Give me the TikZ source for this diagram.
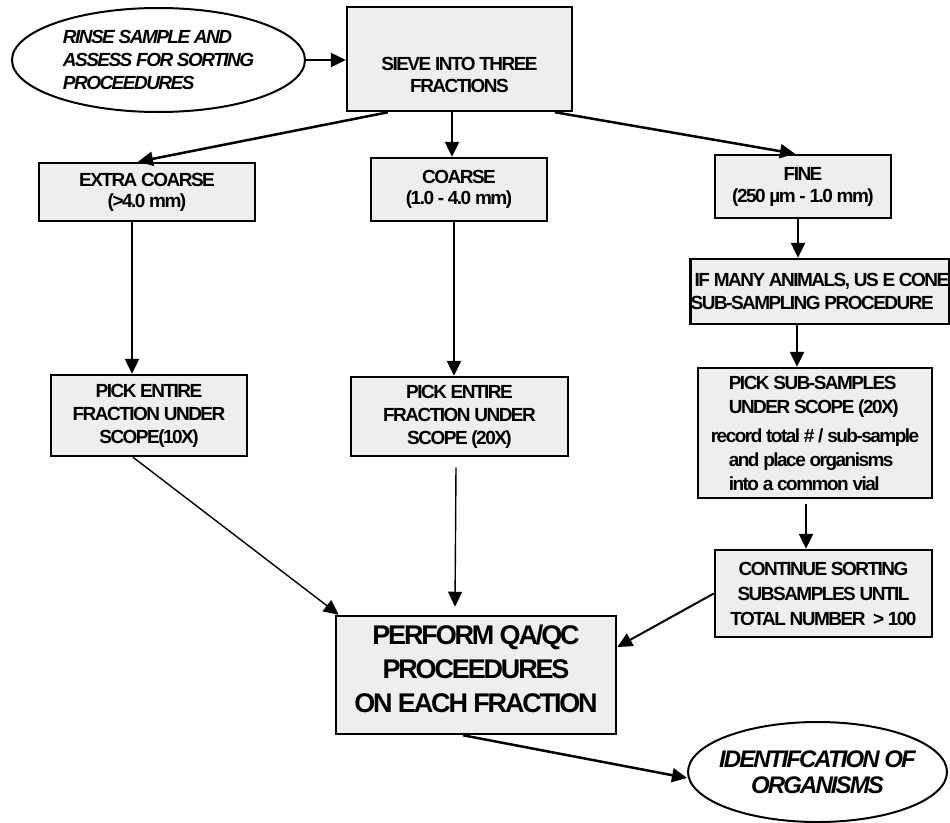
\documentclass[tikz,border=0pt]{standalone}
\usepackage{fontspec}
\setmainfont{Liberation Sans}[LetterSpace=-8]
\usepackage{xcolor}
\usepackage{tikz}
\usetikzlibrary{arrows.meta,shapes.geometric}

\definecolor{boxfill}{HTML}{EEEEEE}

\begin{document}
\begin{tikzpicture}[
  x=1pt, y=-1pt,
  box/.style={draw, line width=2.5pt, fill=boxfill, inner sep=0pt, align=center, font=\bfseries\fontsize{19}{23}\selectfont},
  oval/.style={draw, ellipse, line width=2pt, fill=white, inner xsep=-40pt, inner ysep=0pt, font=\bfseries\itshape\fontsize{19}{23}\selectfont},
  arrow/.style={-{Triangle[length=15pt, width=14pt]}, line width=2.5pt},
  midarrow/.style={-{Triangle[length=15pt, width=14pt]}, line width=2pt},
  thinarrow/.style={-{Triangle[length=15pt, width=14pt]}, line width=1.4pt}
]
  \useasboundingbox (0,0) rectangle (950,822);

  \node[oval, minimum width=293pt, minimum height=104pt, align=left] (rinse) at (158.5,60) {RINSE SAMPLE AND\\ASSESS FOR SORTING\\PROCEEDURES};
  \node[box, minimum width=225pt, minimum height=104pt, font=\bfseries\fontsize{19}{22}\selectfont] (sieve) at (459.5,59) {\mbox{}\\[23pt]SIEVE INTO THREE\\FRACTIONS};
  \node[box, minimum width=216pt, minimum height=58pt, font=\bfseries\fontsize{19}{21}\selectfont] (xcoarse) at (147,192) {EXTRA COARSE\\(>4.0 mm)};
  \node[box, minimum width=176pt, minimum height=63pt, font=\bfseries\fontsize{19}{21}\selectfont] (coarse) at (459,189.5) {COARSE\\(1.0 - 4.0 mm)};
  \node[box, minimum width=176pt, minimum height=63pt, font=\bfseries\fontsize{19}{22}\selectfont] (fine) at (803,186.5) {FINE\\(250 µm - 1.0 mm)};
  \node[box, minimum width=196pt, minimum height=81pt] (pickxc) at (149,415.5) {PICK ENTIRE\\FRACTION UNDER\\SCOPE(10X)};
  \node[box, minimum width=217pt, minimum height=79pt] (pickc) at (459.5,416.5) {PICK ENTIRE\\FRACTION UNDER\\SCOPE (20X)};
  \node[box, minimum width=258pt, minimum height=65pt, align=left] (cone) at (820,291.5) {\hspace*{4pt}IF MANY ANIMALS, US E CONE\\SUB-SAMPLING PROCEDURE};
  \node[box, minimum width=234pt, minimum height=130pt, align=left, font=\bfseries\fontsize{19}{24}\selectfont] (picksub) at (815,433) {\hspace*{18pt}PICK SUB-SAMPLES\\\hspace*{18pt}UNDER SCOPE (20X)\\[5pt]record total \# / sub-sample\\\hspace*{18pt}and place organisms\\\hspace*{18pt}into a common vial};
  \node[box, minimum width=217pt, minimum height=87pt, font=\bfseries\fontsize{19}{25}\selectfont] (sorting) at (823.5,593.5) {CONTINUE SORTING\\SUBSAMPLES UNTIL\\TOTAL NUMBER \ > 100};
  \node[box, minimum width=280pt, minimum height=118pt, font=\bfseries\fontsize{27}{34}\selectfont] (qaqc) at (476,675) {PERFORM QA/QC\\PROCEEDURES\\ON EACH FRACTION\\[-22pt]\mbox{}};
  \node[oval, minimum width=259pt, minimum height=100pt, align=center, font=\bfseries\itshape\fontsize{24}{26}\selectfont] (ident) at (817.5,772) {IDENTIFCATION OF\\ORGANISMS};

  \draw[arrow] (rinse.east) -- (rinse.east -| sieve.west);
  \draw[arrow] ([xshift=-71.5pt]sieve.south) -- ([xshift=-9pt]xcoarse.north);
  \draw[arrow] ([xshift=-7.5pt]sieve.south) -- ([xshift=-7.5pt]sieve.south |- coarse.north);
  \draw[arrow] ([xshift=95.5pt]sieve.south) -- ([xshift=-8pt]fine.north);
  \draw[arrow] ([xshift=-15pt]xcoarse.south) -- ([xshift=-15pt]xcoarse.south |- pickxc.north);
  \draw[arrow] ([xshift=-5pt]coarse.south) -- ([xshift=-5pt]coarse.south |- pickc.north);
  \draw[arrow] ([xshift=-5pt]fine.south) -- ([xshift=-5pt]fine.south |- cone.north);
  \draw[arrow] ([xshift=-23pt]cone.south) -- ([xshift=-23pt]cone.south |- picksub.north);
  \draw[arrow] ([xshift=-9pt, yshift=-5pt]picksub.south) -- ([xshift=-9pt]picksub.south |- sorting.north);
  \draw[thinarrow] ([xshift=-16pt]pickxc.south) -- ([xshift=4pt]qaqc.north west);
  \draw[thinarrow] ([xshift=-3.5pt, yshift=-10pt]pickc.south) -- ([xshift=-21pt, yshift=8pt]qaqc.north);
  \draw[midarrow] (sorting.west) -- ([yshift=28pt]qaqc.east);
  \draw[arrow] ([xshift=-13pt]qaqc.south) -- ([yshift=-6pt]ident.west);
\end{tikzpicture}
\end{document}
